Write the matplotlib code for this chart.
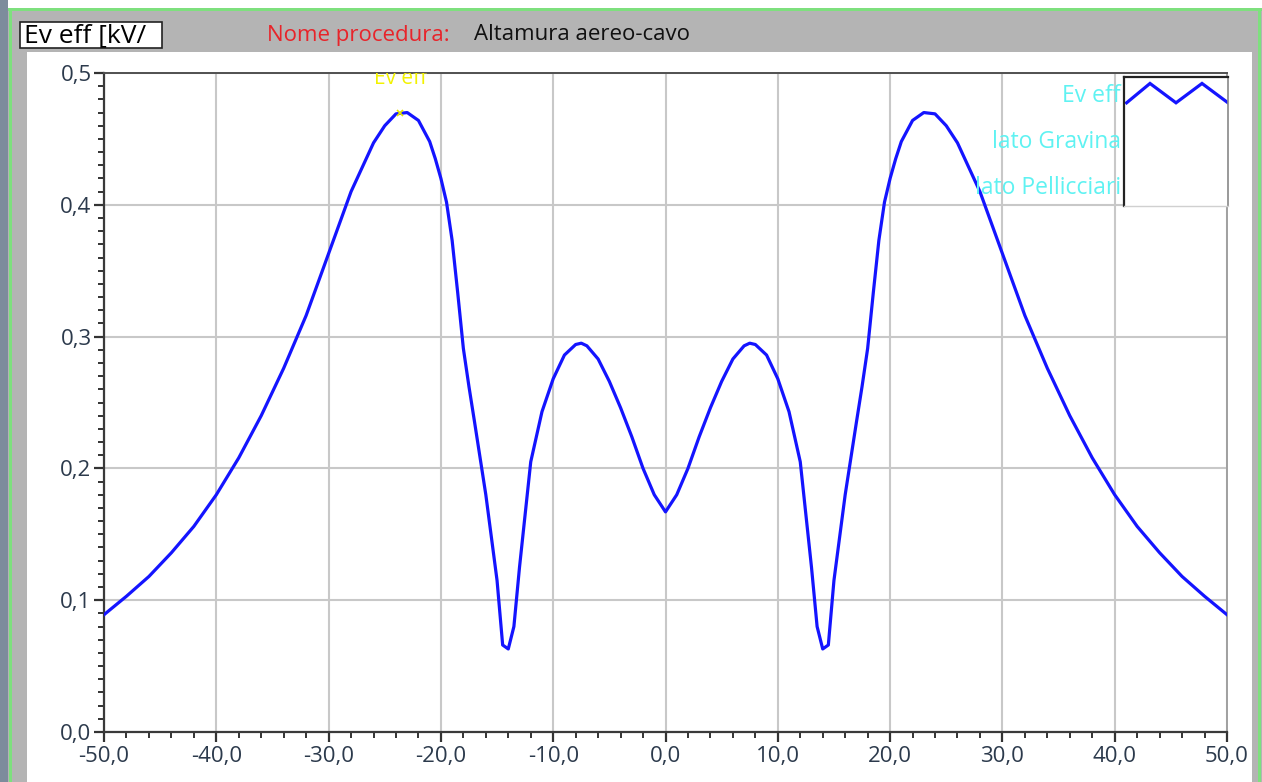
import matplotlib
matplotlib.use("Agg")
import matplotlib.pyplot as plt
from matplotlib.patches import Rectangle
from matplotlib.ticker import MultipleLocator, FuncFormatter

# Effective field profile along the transverse distance
distance_m = [-50, -48, -46, -44, -42, -40, -38, -36, -34, -32, -30, -28,
              -26, -25, -24, -23, -22, -21, -20.5, -20, -19.5, -19, -18.5,
              -18, -17.5, -17, -16, -15, -14.5, -14, -13.5, -13, -12, -11,
              -10, -9, -8, -7.5, -7, -6, -5, -4, -3, -2, -1, 0,
              1, 2, 3, 4, 5, 6, 7, 7.5, 8, 9, 10, 11, 12, 13, 13.5, 14,
              14.5, 15, 16, 17, 17.5, 18, 18.5, 19, 19.5, 20, 20.5, 21, 22,
              23, 24, 25, 26, 28, 30, 32, 34, 36, 38, 40, 42, 44, 46, 48, 50]
ev_eff = [0.089, 0.103, 0.118, 0.136, 0.156, 0.180, 0.208, 0.240, 0.276,
          0.316, 0.363, 0.410, 0.447, 0.460, 0.469, 0.470, 0.464, 0.448,
          0.435, 0.420, 0.402, 0.373, 0.333, 0.291, 0.262, 0.235, 0.180,
          0.115, 0.066, 0.063, 0.080, 0.125, 0.205, 0.243, 0.268, 0.286,
          0.294, 0.295, 0.293, 0.283, 0.266, 0.246, 0.224, 0.200, 0.180,
          0.167,
          0.180, 0.200, 0.224, 0.246, 0.266, 0.283, 0.293, 0.295, 0.294,
          0.286, 0.268, 0.243, 0.205, 0.125, 0.080, 0.063, 0.066, 0.115,
          0.180, 0.235, 0.262, 0.291, 0.333, 0.373, 0.402, 0.420, 0.435,
          0.448, 0.464, 0.470, 0.469, 0.460, 0.447, 0.410, 0.363, 0.316,
          0.276, 0.240, 0.208, 0.180, 0.156, 0.136, 0.118, 0.103, 0.089]
peak_marker = (-23.6, 0.470)
legend_labels = ["Ev eff", "lato Gravina", "lato Pellicciari"]
y_ticks = [0.0, 0.1, 0.2, 0.3, 0.4, 0.5]
x_ticks = [-50, -40, -30, -20, -10, 0, 10, 20, 30, 40, 50]

W, H = 1262, 782
FONT = ["Open Sans", "DejaVu Sans"]
plt.rcParams["font.family"] = FONT

fig = plt.figure(figsize=(W / 100, H / 100), dpi=100)
fig.patch.set_facecolor("white")


def fbox(x0, y0, x1, y1):
    """Pixel box (top-left origin) -> figure-fraction rectangle args."""
    return (x0 / W, 1 - y1 / H), (x1 - x0) / W, (y1 - y0) / H


def frect(x0, y0, x1, y1, color, z=0, **kw):
    xy, w, h = fbox(x0, y0, x1, y1)
    fig.patches.append(Rectangle(xy, w, h, transform=fig.transFigure,
                                 facecolor=color, zorder=z, **kw))


# window chrome
frect(0, 0, 8, H, "#7d8c9c")
frect(8, 8, W, H, "#b4b4b4")
frect(8, 8, W, 11, "#7ee07e", z=1)
frect(9, 8, 12, H, "#7ee07e", z=1)
frect(1258, 8, 1261, H, "#7ee07e", z=1)
frect(27, 52, 1252, H, "white", z=1)
# header text box
frect(20, 22, 162, 48, "white", z=2, edgecolor="#222222", linewidth=1.2)
fig.text(24 / W, 1 - 36 / H, "Ev eff [kV/", fontsize=19, color="black",
         va="center", ha="left", zorder=3)
fig.text(267 / W, 1 - 35 / H, "Nome procedura:", fontsize=16,
         color="#e8242a", va="center", ha="left", zorder=3)
fig.text(474 / W, 1 - 35 / H, "Altamura aereo-cavo", fontsize=16,
         color="#111111", va="center", ha="left", zorder=3)

# main plot
ax = fig.add_axes([104 / W, 1 - 732 / H, (1227 - 104) / W, (732 - 73) / H])
ax.set_zorder(5)
ax.set_facecolor("white")
ax.plot(distance_m, ev_eff, color="#1414ff", linewidth=2.3, zorder=4,
        solid_joinstyle="round")
ax.plot([peak_marker[0]], [peak_marker[1]], marker="x", color="#e6e600",
        markersize=5, markeredgewidth=1.2, zorder=5)
ax.text(peak_marker[0], 0.496, "Ev eff", color="#f2f200", fontsize=15,
        ha="center", va="center", clip_on=True, zorder=5)

ax.set_xlim(-50, 50)
ax.set_ylim(0, 0.5)
ax.set_xticks(x_ticks)
ax.set_yticks(y_ticks)
ax.xaxis.set_minor_locator(MultipleLocator(2))
ax.yaxis.set_minor_locator(MultipleLocator(0.01))
ax.xaxis.set_major_formatter(FuncFormatter(lambda v, p: f"{v:.1f}".replace(".", ",")))
ax.yaxis.set_major_formatter(FuncFormatter(lambda v, p: f"{v:.1f}".replace(".", ",")))
ax.grid(True, which="major", color="#c8c8c8", linewidth=1.5, zorder=1)
ax.set_axisbelow(True)
ax.tick_params(axis="both", which="major", direction="out", length=7,
               width=1.6, color="#333333", labelsize=16,
               labelcolor="#2c3a4c")
ax.tick_params(axis="both", which="minor", direction="out", length=4,
               width=1.4, color="#333333")
ax.tick_params(axis="x", which="major", pad=3)
ax.tick_params(axis="y", which="major", pad=2)
for side in ("left", "bottom"):
    ax.spines[side].set_color("#3a3a3a")
    ax.spines[side].set_linewidth(1.6)
ax.spines["top"].set_color("#505050")
ax.spines["top"].set_linewidth(1.4)
ax.spines["right"].set_color("#a0a0a0")
ax.spines["right"].set_linewidth(1.4)

# legend panel
for i, lab in enumerate(legend_labels):
    fig.text(1121 / W, 1 - (96 + 46 * i) / H, lab, color="#5ff2f2",
             fontsize=16.5, ha="right", va="center", zorder=7)
lax = fig.add_axes([1124 / W, 1 - 206 / H, (1228 - 1124) / W, (206 - 77) / H])
lax.set_zorder(8)
lax.set_xlim(0, 4)
lax.set_ylim(0, 1)
lax.plot([0.1, 1, 2, 3, 4], [0.80, 0.95, 0.80, 0.95, 0.80],
         color="#1414ff", linewidth=2.3, solid_joinstyle="miter")
lax.set_xticks([])
lax.set_yticks([])
for side in ("left", "top"):
    lax.spines[side].set_color("#222222")
    lax.spines[side].set_linewidth(1.6)
lax.spines["right"].set_color("#888888")
lax.spines["right"].set_linewidth(1.2)
lax.spines["bottom"].set_color("#d0d0d0")
lax.spines["bottom"].set_linewidth(1.0)

fig.savefig("out.png", dpi=100, facecolor=fig.get_facecolor())
